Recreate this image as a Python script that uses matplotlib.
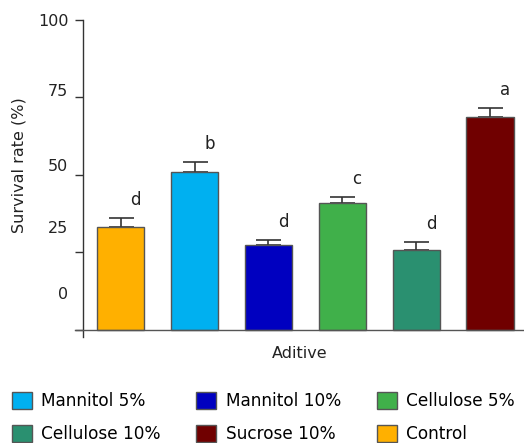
import matplotlib
matplotlib.use("Agg")
import matplotlib.pyplot as plt
from matplotlib.patches import Patch

# ---- data ----
categories = ["Control", "Mannitol 5%", "Mannitol 10%", "Cellulose 5%", "Cellulose 10%", "Sucrose 10%"]
values = [33.1, 51.0, 27.5, 41.1, 25.8, 68.6]
errors = [2.9, 3.3, 1.6, 1.9, 2.5, 3.0]
letters = ["d", "b", "d", "c", "d", "a"]
colors = ["#FFB000", "#00B0F0", "#0000C0", "#40B04A", "#2A9070", "#700000"]
ytick_values = [0, 25, 50, 75, 100]
ytick_labels = ["0", "25", "50", "75", "100"]
legend_order = ["Mannitol 5%", "Mannitol 10%", "Cellulose 5%", "Cellulose 10%", "Sucrose 10%", "Control"]

# layout-only positions of the (shifted) tick labels in the original
ytick_label_pos = [11.8, 33.2, 53.1, 77.3, 100]

plt.rcParams['font.family'] = ['DejaVu Sans']
FS = 11.5
LFS = 12.2
W, H = 524, 443
fig = plt.figure(figsize=(W / 100, H / 100), dpi=100)
ax = fig.add_axes([83 / W, 1 - 337 / H, (524 - 83) / W, (337 - 20) / H])
ax.yaxis.remove_overlapping_locs = False

x = list(range(len(categories)))
edge = "#555555"
ax.bar(x, values, width=0.64, color=colors, edgecolor=edge, linewidth=1.0, zorder=2)
ax.errorbar(x, values, yerr=[[0] * len(errors), errors], fmt="none", ecolor="#333333",
            elinewidth=1.2, capsize=9, capthick=1.2, zorder=1)
for xi, v, e, l in zip(x, values, errors, letters):
    ax.text(xi + 0.2, v + e + 5.8, l, ha="center", va="center", fontsize=FS + 0.5, color="#222222")

ax.set_xlim(-0.51, 5.46)
ax.set_ylim(-2.3, 100)

for s in ["top", "right", "bottom"]:
    ax.spines[s].set_visible(False)
ax.spines["left"].set_color("#333333")
ax.spines["left"].set_linewidth(1.0)
ax.axhline(0, xmin=-8 / 441, xmax=1, color="#555555", linewidth=1.0, clip_on=False, zorder=3)

ax.set_xticks([])
ax.set_yticks(ytick_values)
ax.set_yticklabels([])
ax.tick_params(axis="y", which="major", length=6, width=1.0, color="#333333")
ax.set_yticks(ytick_label_pos, minor=True)
ax.set_yticklabels(ytick_labels, minor=True)
ax.tick_params(axis="y", which="minor", length=0, pad=10.5, labelsize=FS, labelcolor="#222222")

ax.set_ylabel("Survival rate (%)", fontsize=FS, color="#222222")
ax.yaxis.set_label_coords((27 - 83) / 441, (337 - 165) / 317)
ax.set_xlabel("Aditive", fontsize=FS, color="#222222")
ax.xaxis.set_label_coords((300 - 83) / 441, (337 - 353) / 317)
ax.xaxis.label.set_va("center")

cmap = dict(zip(categories, colors))
handles = [Patch(facecolor=cmap[c], edgecolor=edge, linewidth=1.0, label=c) for c in legend_order]
# matplotlib fills columns first; reorder so rows read as in the original
ncol, nrow = 3, 2
order = [r * ncol + c for c in range(ncol) for r in range(nrow)]
handles = [handles[i] for i in order]
fig.legend(handles=handles, loc="upper left", bbox_to_anchor=(12 / W, 1 - 392 / H),
           ncol=ncol, frameon=False, fontsize=LFS, borderpad=0, borderaxespad=0,
           handlelength=1.18, handleheight=1.18, handletextpad=0.55,
           columnspacing=2.1, labelspacing=0.85)

fig.savefig("out.png", dpi=100)
